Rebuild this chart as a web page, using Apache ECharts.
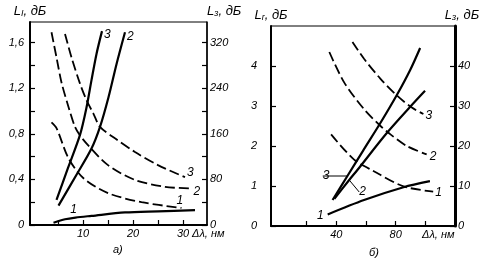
<!DOCTYPE html>
<html><head><meta charset="utf-8">
<script src="https://cdn.jsdelivr.net/npm/echarts@6/dist/echarts.min.js"></script>
<style>html,body{margin:0;padding:0;background:#fff}#c{width:488px;height:262px}</style>
</head><body><div id="c"></div>
<script>
// ---------- Panel а) ----------
const aXTicks = [5, 10, 15, 20, 25, 30];
const aXLabels = [10, 20, 30];
// solid curves (left axis L_I, дБ)
const aS1X = [4.1, 6.4, 8.5, 11.7, 18.4, 25, 32.4];
const aS1Y = [0.02, 0.05, 0.065, 0.08, 0.11, 0.12, 0.13];
const aS2X = [5.1, 8.7, 11.7, 13.4, 15.1, 16.7, 18.4];
const aS2Y = [0.17, 0.44, 0.67, 0.86, 1.12, 1.41, 1.69];
const aS3X = [4.7, 7.0, 9.4, 10.7, 11.7, 12.7, 13.8];
const aS3Y = [0.22, 0.50, 0.79, 1.03, 1.27, 1.50, 1.70];
// dashed curves (right axis L_з, дБ)
const aD1X = [3.7, 4.7, 7.1, 10.1, 15, 21.7, 29.7];
const aD1Y = [180, 170, 117, 82, 56, 40, 30];
const aD2X = [3.7, 4.7, 5.7, 7.1, 8.4, 9.4, 11, 15, 20.4, 26.4, 31.7];
const aD2Y = [338, 294, 250, 207, 172, 157, 140, 105, 79, 67, 64];
const aD3X = [6.4, 7.7, 9.4, 10.7, 12.1, 13.4, 16.4, 20.4, 25, 30.4];
const aD3Y = [335, 294, 248, 219, 195, 172, 152, 128, 105, 84];

// ---------- Panel б) ----------
const bXTicks = [20, 40, 60, 80, 100];
const bXLabels = [40, 80];
const bS1X = [34.2, 58.7, 85.3, 103.1];
const bS1Y = [0.29, 0.65, 0.97, 1.12];
const bS2X = [38.7, 48.7, 54.2, 74.2, 89.8, 99.8];
const bS2Y = [0.68, 1.15, 1.40, 2.33, 2.98, 3.38];
const bS3X = [37.5, 47.5, 58, 69.8, 80.9, 89.8, 96.5];
const bS3Y = [0.65, 1.25, 1.88, 2.58, 3.28, 3.90, 4.45];
const bD1X = [36.5, 52, 65.3, 85.3, 105.3];
const bD1Y = [22.9, 16.6, 13.7, 9.9, 8.6];
const bD2X = [35.3, 45.3, 58.7, 69.8, 76.5, 87.5, 100.9];
const bD2Y = [43.5, 35.9, 29.2, 25.0, 22.9, 20.0, 17.9];
const bD3X = [50.9, 58.7, 69.8, 80.9, 90.9, 98.7];
const bD3Y = [46.0, 41.8, 36.8, 32.6, 29.6, 28.0];

const FONT = 'Liberation Sans';
const T = {color: '#000', fontFamily: FONT, fontStyle: 'italic', fontSize: 11};
const pts = (xs, ys) => xs.map((x, i) => [x, ys[i]]);

function axisName(main, sub) {
  return '{i|' + main + '}{s|' + sub + '}{i|, дБ}';
}
const nameRich = {
  i: Object.assign({}, T, {fontSize: 13}),
  s: Object.assign({}, T, {fontSize: 9, padding: [5, 0, 0, 0]})
};

function xAx(grid, min, max, ticks, labels, gap) {
  return {
    type: 'value', gridIndex: grid, min: min, max: max,
    axisLine: {show: true, lineStyle: {color: '#000', width: 2}},
    axisTick: {show: true, inside: true, length: 5, customValues: ticks, lineStyle: {color: '#000', width: 1.2}},
    axisLabel: Object.assign({}, T, {customValues: labels, margin: 3}),
    splitLine: {show: false},
    name: 'Δλ, нм', nameLocation: 'end', nameGap: gap, nameMoveOverlap: false,
    nameTextStyle: Object.assign({}, T, {fontSize: 11, align: 'left', verticalAlign: 'top', padding: [3, 0, 0, 0]})
  };
}
function yAx(grid, pos, max, interval, labelStep, comma, nm, nameOpts, lw, margin) {
  return {
    type: 'value', gridIndex: grid, position: pos, min: 0, max: max, interval: interval,
    axisLine: {show: true, onZero: false, lineStyle: {color: '#000', width: lw}},
    axisTick: {show: true, inside: true, length: 5, lineStyle: {color: '#000', width: 1.2}},
    axisLabel: Object.assign({}, T, {
      margin: margin,
      showMaxLabel: false,
      formatter: v => {
        const k = Math.round(v / interval);
        if (Math.abs(v - k * interval) > 1e-6) return '';
        if (Math.round(v / labelStep * 1000) % 1000 !== 0) return '';
        if (v > max - 1e-6) return '';
        let s = String(Math.round(v * 100) / 100);
        return comma ? s.replace('.', ',') : s;
      }
    }),
    splitLine: {show: false},
    name: nm, nameLocation: 'end', nameGap: 4, nameMoveOverlap: false,
    nameTextStyle: Object.assign({rich: nameRich}, nameOpts)
  };
}

function line(xi, yi, data, dashed, extra) {
  return Object.assign({
    type: 'line', xAxisIndex: xi, yAxisIndex: yi, data: data,
    showSymbol: true, symbol: 'circle', symbolSize: 0, smooth: 0.3, silent: true,
    itemStyle: {color: '#000'},
    lineStyle: {color: '#000', width: dashed ? 1.8 : 2.2, type: dashed ? [10, 4] : 'solid'},
    animation: false
  }, extra || {});
}
function endLbl(txt, dist, off) {
  return {endLabel: Object.assign({show: true, formatter: txt, distance: dist, offset: off}, T, {fontSize: 12})};
}
function labelAt(xs, ys, idx, txt, lbl) {
  return xs.map((x, i) => i === idx
    ? {value: [x, ys[i]], label: Object.assign({show: true, formatter: txt}, T, {fontSize: 12}, lbl)}
    : [x, ys[i]]);
}

const option = {
  animation: false,
  backgroundColor: '#fff',
  grid: [
    {left: 30, top: 22, width: 177, height: 203, show: true, borderColor: '#000', borderWidth: 1},
    {left: 271, top: 26, width: 184, height: 200, show: true, borderColor: '#000', borderWidth: 1}
  ],
  title: [
    {text: 'а)', left: 108, top: 239, textStyle: Object.assign({}, T, {fontSize: 11, fontWeight: 'normal'})},
    {text: 'б)', left: 364, top: 242, textStyle: Object.assign({}, T, {fontSize: 11, fontWeight: 'normal'})}
  ],
  xAxis: [
    xAx(0, -0.6, 34.8, aXTicks, aXLabels, -15),
    xAx(1, -4, 120, bXTicks, bXLabels, -33)
  ],
  yAxis: [
    yAx(0, 'left', 1.78, 0.2, 0.4, true, axisName('L', 'I'), {align: 'center'}, 2, 6),
    yAx(0, 'right', 356, 40, 80, false, axisName('L', 'з'), {align: 'left', padding: [0, 0, 0, 0]}, 1.5, 3),
    yAx(1, 'left', 5, 1, 1, false, axisName('L', 'r'), {align: 'center'}, 2, 14),
    yAx(1, 'right', 50, 10, 10, false, axisName('L', 'з'), {align: 'center', padding: [0, 0, 0, 14]}, 3, 3)
  ],
  series: [
    line(0, 0, labelAt(aS1X, aS1Y, 2, '1', {position: 'top', distance: 2, offset: [-2, 0]}), false),
    line(0, 0, pts(aS2X, aS2Y), false, endLbl('2', 2, [0, 4])),
    line(0, 0, pts(aS3X, aS3Y), false, endLbl('3', 2, [0, 4])),
    line(0, 1, pts(aD1X, aD1Y), true, endLbl('1', 0, [-5, -7])),
    line(0, 1, pts(aD2X, aD2Y), true, endLbl('2', 2, [0, 3])),
    line(0, 1, pts(aD3X, aD3Y), true, endLbl('3', 2, [0, -4])),

    line(1, 2, labelAt(bS1X, bS1Y, 0, '1', {position: 'left', distance: 4, offset: [0, 1]}), false),
    line(1, 2, labelAt(bS2X, bS2Y, 1, '2', {position: 'right', distance: 0}), false,
      {labelLayout: {dx: 10, dy: 12}, labelLine: {show: true, lineStyle: {color: '#000', width: 1}}}),
    line(1, 2, labelAt(bS3X, bS3Y, 1, '3', {position: 'left', distance: 0}), false,
      {labelLayout: {dx: -18, dy: 0}, labelLine: {show: true, lineStyle: {color: '#000', width: 1}}}),
    line(1, 3, pts(bD1X, bD1Y), true, endLbl('1', 2, [0, 1])),
    line(1, 3, pts(bD2X, bD2Y), true, endLbl('2', 3, [0, 2])),
    line(1, 3, pts(bD3X, bD3Y), true, endLbl('3', 2, [0, 2]))
  ]
};
const chart = echarts.init(document.getElementById('c'));
chart.setOption(option);
</script>
</body></html>
